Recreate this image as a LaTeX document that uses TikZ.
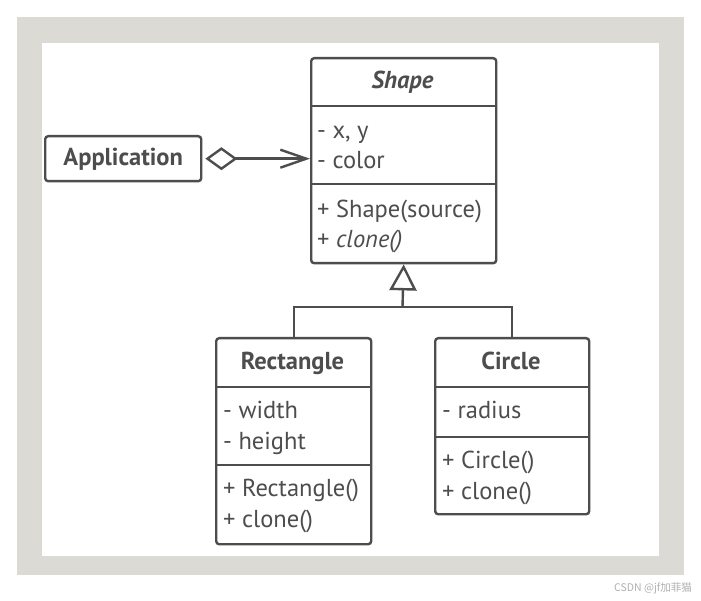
\documentclass[tikz,border=0pt]{standalone}
\usepackage{fontspec}
\setmainfont{PT Sans}
\newfontfamily\cjkfont{Noto Sans CJK SC}
\usetikzlibrary{arrows.meta}
\definecolor{ink}{RGB}{77,77,77}
\definecolor{framegray}{RGB}{220,218,212}
\definecolor{wmark}{RGB}{175,175,175}
\begin{document}
\begin{tikzpicture}[x=1pt,y=-1pt,
  classbox/.style={draw=ink, line width=2.4pt, rounded corners=3pt, inner sep=0pt, anchor=north west},
  divider/.style={draw=ink, line width=2.4pt},
  member/.style={text=ink, inner sep=0pt, anchor=west, yshift=-1.5pt, font=\fontsize{24.5}{29}\selectfont, text height=17.5pt, text depth=5.5pt},
  cname/.style={text=ink, inner sep=0pt, yshift=-1pt, font=\fontsize{24.5}{29}\selectfont\bfseries, text height=17.5pt, text depth=5.5pt},
  conn/.style={draw=ink, line width=2.4pt}]
\useasboundingbox (0,0) rectangle (701,601);
\fill[framegray] (17,17) rectangle (684,575);
\fill[white] (42,43) rectangle (659,556);

% Shape
\node[classbox, minimum width=185pt, minimum height=205pt] (shape) at (310,57) {};
\draw[divider] (310,106) -- (495,106);
\draw[divider] (310,184) -- (495,184);
\node[cname, font=\fontsize{24.5}{29}\selectfont\bfseries\itshape] (shapename) at (402.5,81.5) {Shape};
\node[member] (sxy) at (317,131) {- x, y};
\node[member] (scol) at (317,161) {- color};
\node[member] (sctor) at (317,210) {+ Shape(source)};
\node[member] (sclone) at (317,240) {+ \textit{clone()}};

% Application
\node[classbox, minimum width=156pt, minimum height=45pt] (app) at (44,135) {};
\node[cname] (appname) at (app.center) {Application};

% Rectangle
\node[classbox, minimum width=155pt, minimum height=206pt] (rect) at (215,337) {};
\draw[divider] (215,387) -- (370,387);
\draw[divider] (215,465) -- (370,465);
\node[cname] (rectname) at (292.5,362) {Rectangle};
\node[member] (rw) at (223,411) {- width};
\node[member] (rh) at (223,442) {- height};
\node[member] (rctor) at (223,489) {+ Rectangle()};
\node[member] (rclone) at (223,520) {+ clone()};

% Circle
\node[classbox, minimum width=154pt, minimum height=176pt] (circ) at (434,337) {};
\draw[divider] (434,387) -- (588,387);
\draw[divider] (434,437) -- (588,437);
\node[cname] (circname) at (511,362) {Circle};
\node[member] (cr) at (442,411) {- radius};
\node[member] (cctor) at (442,461) {+ Circle()};
\node[member] (cclone) at (442,492) {+ clone()};

% Connectors
\coordinate (jn) at (402.5,307);
\draw[conn] (rect.north) |- (jn) -| (circ.north);
\draw[conn, -{Triangle[open, length=26pt, width=27pt]}] (jn) -- (shape.south);
\draw[conn, {Diamond[open, length=32pt, width=23pt]}-{Straight Barb[length=26pt, width=18pt]}] ([xshift=3pt]app.east) -- (app.east -| shape.west);

% watermark
\node[anchor=east, text=wmark, font=\cjkfont\fontsize{10.5}{12}\selectfont, inner sep=0pt] (wm) at (692,588) {CSDN @jf加菲猫};
\end{tikzpicture}
\end{document}
